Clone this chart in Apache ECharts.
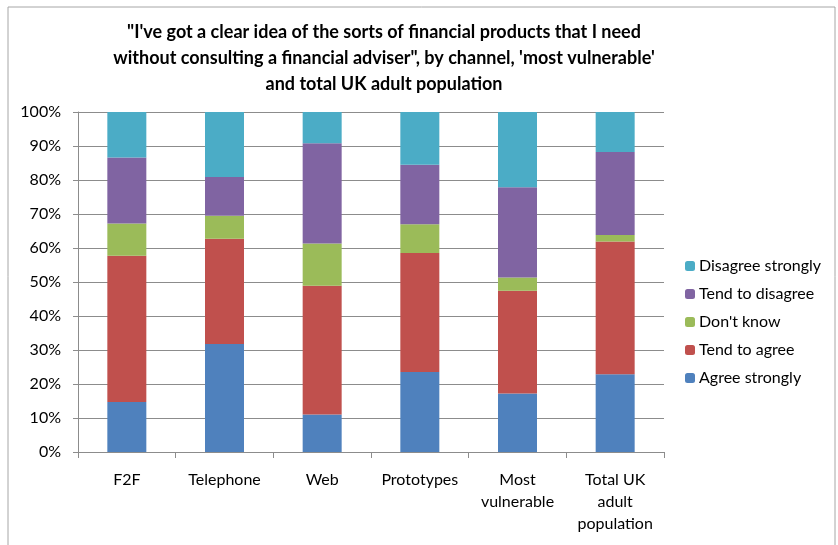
<!DOCTYPE html>
<html>
<head>
<meta charset="utf-8">
<script src="https://cdn.jsdelivr.net/npm/echarts@6/dist/echarts.min.js"></script>
<style>
  html, body { margin: 0; padding: 0; background: #fff; }
  #chart { width: 838px; height: 545px; }
</style>
</head>
<body>
<div id="chart"></div>
<script>
// Channels shown along the x axis
const categories = ['F2F', 'Telephone', 'Web', 'Prototypes', 'Most\nvulnerable', 'Total UK\nadult\npopulation'];

// Response shares (%) per channel, stacked bottom to top
const agreeStrongly    = [14.7, 31.8, 11.0, 23.5, 17.2, 22.9];
const tendToAgree      = [43.0, 30.9, 37.9, 35.0, 30.2, 39.0];
const dontKnow         = [9.5, 6.8, 12.4, 8.5, 3.9, 1.9];
const tendToDisagree   = [19.4, 11.4, 29.5, 17.5, 26.6, 24.4];
const disagreeStrongly = [13.4, 19.1, 9.2, 15.5, 22.1, 11.8];

const seriesNames = ['Agree strongly', 'Tend to agree', "Don't know", 'Tend to disagree', 'Disagree strongly'];
const seriesValues = [agreeStrongly, tendToAgree, dontKnow, tendToDisagree, disagreeStrongly];
const seriesColors = ['#4F81BD', '#C0504D', '#9BBB59', '#8064A2', '#4BACC6'];

const yTicks = [0, 10, 20, 30, 40, 50, 60, 70, 80, 90, 100];

const FONT = 'Lato, "Open Sans", sans-serif';

const chart = echarts.init(document.getElementById('chart'), null, { renderer: 'canvas' });

chart.setOption({
  animation: false,
  backgroundColor: '#fff',
  title: {
    text: '"I\'ve got a clear idea of the sorts of financial products that I need\nwithout consulting a financial adviser", by channel, \'most vulnerable\'\nand total UK adult population',
    left: 379,
    top: 14,
    textAlign: 'center',
    textStyle: {
      fontFamily: FONT,
      fontSize: 18,
      fontWeight: 'bold',
      color: '#000',
      lineHeight: 26
    }
  },
  graphic: [{
    type: 'rect',
    shape: { x: 8, y: 7, width: 827, height: 560 },
    style: { fill: 'none', stroke: '#a6a6a6', lineWidth: 1 },
    silent: true
  }],
  legend: {
    orient: 'vertical',
    left: 680,
    top: 253,
    itemWidth: 10,
    itemHeight: 10,
    itemGap: 12,
    data: seriesNames.slice().reverse(),
    textStyle: { fontFamily: FONT, fontSize: 16, lineHeight: 16, color: '#000', padding: [0, 0, 0, -1] }
  },
  grid: { left: 78, top: 112, width: 586, height: 340 },
  xAxis: {
    type: 'category',
    data: categories,
    axisLine: { lineStyle: { color: '#8c8c8c' } },
    axisTick: { show: true, length: 6, lineStyle: { color: '#8c8c8c' } },
    axisLabel: {
      fontFamily: FONT, fontSize: 16, color: '#000',
      margin: 17, lineHeight: 22, interval: 0
    }
  },
  yAxis: {
    type: 'value',
    min: 0,
    max: 100,
    interval: 10,
    axisLine: { show: true, lineStyle: { color: '#8c8c8c' } },
    axisTick: { show: true, length: 5, lineStyle: { color: '#8c8c8c' } },
    splitLine: { lineStyle: { color: '#8c8c8c' } },
    axisLabel: {
      fontFamily: FONT, fontSize: 16, color: '#000', margin: 17,
      formatter: v => (yTicks.indexOf(v) >= 0 ? v + '%' : '')
    }
  },
  series: seriesNames.map((name, i) => ({
    name: name,
    type: 'bar',
    stack: 'total',
    barWidth: 39,
    data: seriesValues[i],
    itemStyle: { color: seriesColors[i] }
  }))
});
</script>
</body>
</html>
